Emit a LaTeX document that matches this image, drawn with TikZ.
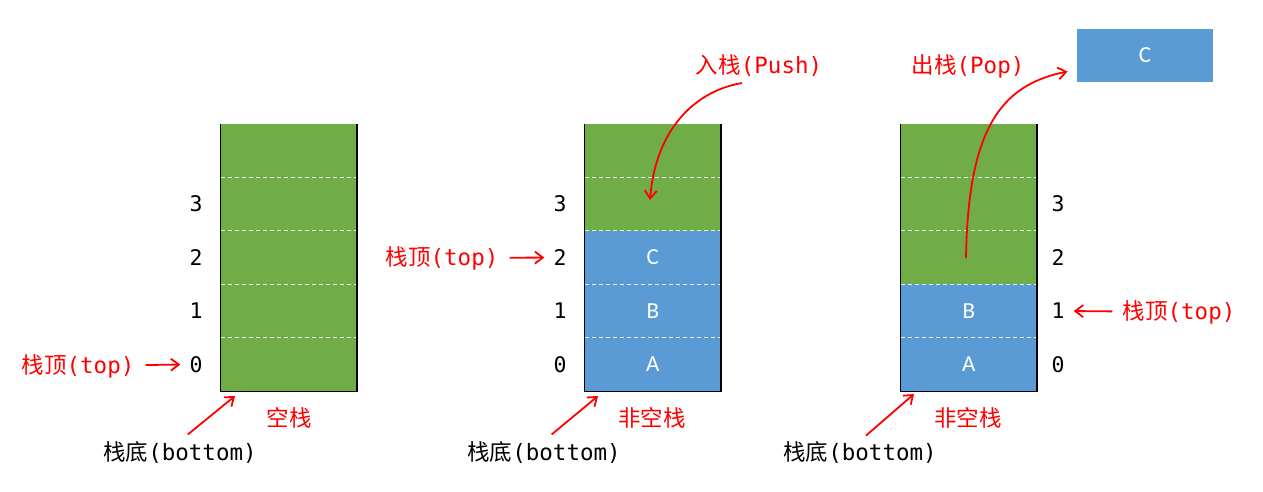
\documentclass[tikz,border=0pt]{standalone}
\usepackage{fontspec}
\setmainfont{Carlito}
\newfontfamily\cjk{Noto Sans CJK SC}
\newfontfamily\mono{DejaVu Sans Mono}
\usetikzlibrary{arrows.meta}
\definecolor{sgreen}{HTML}{70AD47}
\definecolor{sblue}{HTML}{5B9BD5}
\begin{document}
\begin{tikzpicture}[x=1pt,y=-1pt,
  cell/.style={minimum width=136.5pt,minimum height=53.6pt,inner sep=0pt,draw=none},
  celltext/.style={inner sep=0pt,text=white,font=\fontsize{23}{23}\selectfont},
  num/.style={inner sep=0pt,font=\mono\fontsize{21.5}{21.5}\selectfont},
  lbl/.style={inner sep=0pt,font=\fontsize{22.5}{24}\selectfont},
  ra/.style={draw=red,line width=1.8pt,-{Straight Barb[length=8pt,width=12pt]}},
  dl/.style={draw=white!85!sgreen,line width=0.8pt,dash pattern=on 4pt off 3pt},
  outline/.style={draw=black,line width=1.5pt}]
\useasboundingbox[fill=white] (0,0) rectangle (1263,492);
% cells
\foreach \s/\L/\n in {1/220.5/0,2/584.5/3,3/900.5/2}{
  \foreach \i in {0,...,4}{
    \ifnum\i<\n \def\cc{sblue}\else\def\cc{sgreen}\fi
    \node[cell,fill=\cc] (s\s-\i) at ({\L+68.25},{364.3-53.4*\i}) {};
  }
}
\foreach \s in {1,2,3}{
  \foreach \i in {0,...,3}{
    \draw[dl] ([xshift=1pt]s\s-\i.north west) -- ([xshift=-1pt]s\s-\i.north east);
  }
  \draw[outline] (s\s-4.north west) -- (s\s-0.south west) -- (s\s-0.south east) -- (s\s-4.north east);
}
% cell letters
\node[celltext] (t2a) at (s2-0) {A};
\node[celltext] (t2b) at (s2-1) {B};
\node[celltext] (t2c) at (s2-2) {C};
\node[celltext] (t3a) at (s3-0) {A};
\node[celltext] (t3b) at (s3-1) {B};
% index numbers
\foreach \s/\X in {1/196,2/560,3/1058}{
  \foreach \i in {0,...,3}{
    \node[num] (n\s-\i) at (\X,{364.3-53.4*\i}) {\i};
  }
}
% top labels
\node[lbl,text=red] (top1) at (78,366) {{\cjk 栈顶}{\mono(top)}};
\draw[ra,shorten <=11pt,shorten >=9pt] (top1) -- (n1-0);
\node[lbl,text=red] (top2) at (442,258) {{\cjk 栈顶}{\mono(top)}};
\draw[ra,shorten <=11pt,shorten >=9pt] (top2) -- (n2-2);
\node[lbl,text=red] (top3) at (1179,312) {{\cjk 栈顶}{\mono(top)}};
\draw[ra,shorten <=10pt,shorten >=9pt] (top3) -- (n3-1);
% stack names
\node[lbl,text=red] (name1) at (289,418) {\cjk 空栈};
\node[lbl,text=red] (name2) at (652,418) {\cjk 非空栈};
\node[lbl,text=red] (name3) at (968,418) {\cjk 非空栈};
% bottom labels
\node[lbl] (bot1) at (180,452) {{\cjk 栈底}{\mono(bottom)}};
\node[lbl] (bot2) at (544,452) {{\cjk 栈底}{\mono(bottom)}};
\node[lbl] (bot3) at (860,452) {{\cjk 栈底}{\mono(bottom)}};
\coordinate (bt1) at (235,396);
\coordinate (bt2) at (598,396);
\coordinate (bt3) at (914,394);
\draw[ra,shorten <=10pt] (bot1.north) -- (bt1);
\draw[ra,shorten <=10pt] (bot2.north) -- (bt2);
\draw[ra,shorten <=8pt] (bot3.north) -- (bt3);
% push
\node[lbl,text=red] (push) at (759,66) {{\cjk 入栈}{\mono(Push)}};
\coordinate (pushs) at (742,83);
\coordinate (pushe) at (650,200);
\draw[ra] (pushs) .. controls (690,92) and (655,135) .. (pushe);
% pop
\node[lbl,text=red] (pop) at (968,66) {{\cjk 出栈}{\mono(Pop)}};
\node[cell,fill=sblue,minimum height=53pt] (outc) at (1145,55.5) {};
\node[celltext] (outct) at (outc) {C};
\coordinate (pops) at (966,258);
\draw[ra] (pops) .. controls (968,130) and (1000,85) .. ([xshift=-9pt,yshift=-16pt]outc.west);
\end{tikzpicture}
\end{document}
